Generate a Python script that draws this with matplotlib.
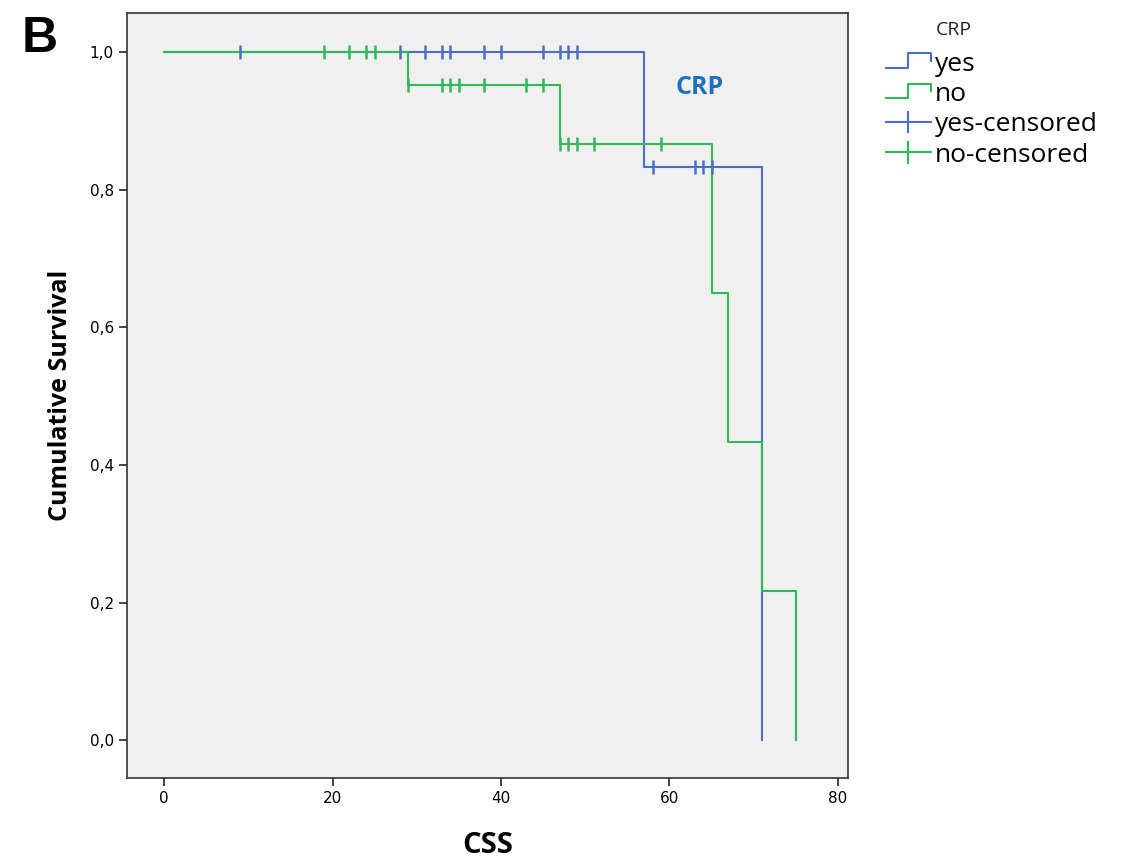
import matplotlib
matplotlib.use("Agg")
import matplotlib.pyplot as plt
from matplotlib.legend_handler import HandlerBase
from matplotlib.lines import Line2D

BLUE = "#4a6fc4"
GREEN = "#33b859"

# step curves (time, survival)
yes_times = [0, 57, 71, 71]
yes_surv = [1.0, 0.833, 0.0, 0.0]
no_times = [0, 29, 47, 65, 67, 71, 75, 75]
no_surv = [1.0, 0.953, 0.867, 0.650, 0.434, 0.217, 0.0, 0.0]

# censored observations
yes_cens_t = [9, 28, 31, 33, 34, 38, 40, 45, 47, 48, 49, 58, 63, 64, 65]
yes_cens_s = [1.0] * 11 + [0.833] * 4
no_cens_t = [19, 22, 24, 25, 29, 33, 34, 35, 38, 43, 45, 47, 48, 49, 51, 59]
no_cens_s = [1.0] * 4 + [0.953] * 7 + [0.867] * 5

x_ticks = [0, 20, 40, 60, 80]
y_ticks = [0.0, 0.2, 0.4, 0.6, 0.8, 1.0]
y_tick_labels = ["0,0", "0,2", "0,4", "0,6", "0,8", "1,0"]


class StepHandler(HandlerBase):
    def create_artists(self, legend, orig_handle, xdescent, ydescent, width, height, fontsize, trans):
        x0, x1 = -xdescent, -xdescent + width
        y0, y1 = -ydescent + 0.15 * height, -ydescent + 0.95 * height
        xs = [x0, x0 + 0.5 * width, x0 + 0.5 * width, x1, x1]
        ys = [y0, y0, y1, y1, y0 + 0.5 * (y1 - y0)]
        line = Line2D(xs, ys, color=orig_handle.get_color(), lw=1.5, transform=trans)
        return [line]


class CensHandler(HandlerBase):
    def create_artists(self, legend, orig_handle, xdescent, ydescent, width, height, fontsize, trans):
        ym = -ydescent + 0.5 * height
        x0, x1 = -xdescent, -xdescent + width
        h = Line2D([x0, x1], [ym, ym], color=orig_handle.get_color(), lw=1.5, transform=trans)
        v = Line2D([x0 + 0.5 * width] * 2, [ym - 0.55 * height, ym + 0.55 * height],
                   color=orig_handle.get_color(), lw=1.5, transform=trans)
        return [h, v]


fig = plt.figure(figsize=(11.3, 8.65), dpi=100)
ax = fig.add_axes([0.1124, 0.1006, 0.6380, 0.8844])
ax.set_facecolor("#f0f0f0")

ax.step(yes_times, yes_surv, where="post", color=BLUE, lw=1.5)
ax.step(no_times, no_surv, where="post", color=GREEN, lw=1.5)
ax.plot(yes_cens_t, yes_cens_s, ls="none", marker="|", ms=10, mew=1.8, color=BLUE)
ax.plot(no_cens_t, no_cens_s, ls="none", marker="|", ms=10, mew=1.8, color=GREEN)

ax.set_xlim(-4.4, 81.2)
ax.set_ylim(-0.055, 1.057)
ax.set_xticks(x_ticks)
ax.set_yticks(y_ticks)
ax.set_yticklabels(y_tick_labels)
ax.tick_params(direction="out", length=6, width=1.2, labelsize=11, color="#222222")
for sp in ax.spines.values():
    sp.set_linewidth(1.2)
    sp.set_color("#333333")

ax.set_xlabel("CSS", fontsize=21, fontweight="bold", family="Open Sans", labelpad=18)
ax.set_ylabel("Cumulative Survival", fontsize=18, fontweight="bold", family="Open Sans", labelpad=12)

ax.text(60.7, 0.948, "CRP", color="#1f6fc0", fontsize=18, fontweight="bold",
        family="Open Sans", ha="left", va="center")

h_yes = Line2D([], [], color=BLUE)
h_no = Line2D([], [], color=GREEN)
h_yes_c = Line2D([], [], color=BLUE)
h_no_c = Line2D([], [], color=GREEN)
leg = fig.legend([h_yes, h_no, h_yes_c, h_no_c], ["yes", "no", "yes-censored", "no-censored"],
                 handler_map={h_yes: StepHandler(), h_no: StepHandler(),
                              h_yes_c: CensHandler(), h_no_c: CensHandler()},
                 loc="upper left", bbox_to_anchor=(0.784, 0.94), frameon=False,
                 prop={"family": "Open Sans", "size": 19},
                 handlelength=1.7, handletextpad=0.15, labelspacing=0.2, borderaxespad=0,
                 borderpad=0)
fig.text(0.828, 0.965, "CRP", fontsize=14, family="Open Sans", va="center", color="#222222")

fig.text(0.019, 0.94, "B", fontsize=36, fontweight="bold", family="Liberation Sans")

fig.savefig("out.png", dpi=100)
